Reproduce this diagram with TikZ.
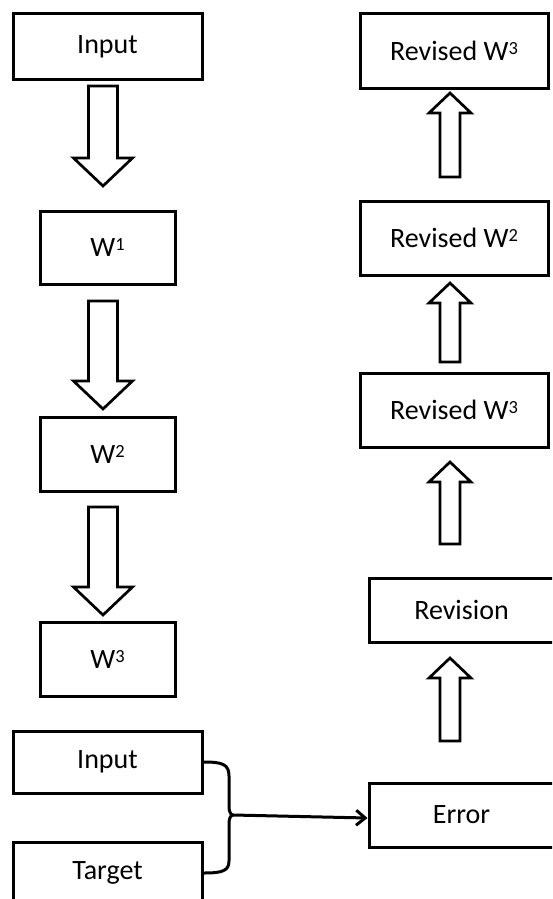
\documentclass[tikz,border=0pt]{standalone}
\usepackage{fontspec}
\setmainfont{Carlito}
\usetikzlibrary{arrows.meta,calc}
\tikzset{
  box/.style={draw=black, line width=3pt, fill=white, inner sep=0pt,
    font=\fontsize{28}{32}\selectfont},
  blk/.style={draw=black, line width=2.7pt, fill=white, line join=miter},
  conn/.style={draw=black, line width=3pt},
}
\newcommand{\sps}[1]{\raisebox{6pt}{\fontsize{18.5}{20}\selectfont #1}}
% down block arrow: x centre, y top, y tip
\newcommand{\bdown}[3]{%
  \draw[blk] (#1-14.5,#2) -- (#1+14.5,#2) -- (#1+14.5,#3-28) -- (#1+29.5,#3-28)
    -- (#1,#3) -- (#1-29.5,#3-28) -- (#1-14.5,#3-28) -- cycle;}
% up block arrow: x centre, y bottom, y tip
\newcommand{\bup}[3]{%
  \draw[blk] (#1-10,#2) -- (#1+10,#2) -- (#1+10,#3+20) -- (#1+21,#3+20)
    -- (#1,#3) -- (#1-21,#3+20) -- (#1-10,#3+20) -- cycle;}
\begin{document}
\begin{tikzpicture}[x=1pt,y=-1pt]
\useasboundingbox (0,0) rectangle (552,899);
\clip (0,0) rectangle (552,899);

% left column
\node[box, minimum width=189pt, minimum height=65pt] (in1) at (107.5,46.5) {Input};
\node[box, minimum width=135pt, minimum height=73pt] (w1) at (107.5,247.5) {W\sps{1}};
\node[box, minimum width=135pt, minimum height=74pt] (w2) at (107.5,454) {W\sps{2}};
\node[box, minimum width=135pt, minimum height=74pt] (w3) at (107.5,659) {W\sps{3}};
\node[box, minimum width=189pt, minimum height=62pt] (in2) at (107.5,762) {Input};
\node[box, minimum width=189pt, minimum height=62pt] (tg) at (107.5,873) {Target};

\bdown{103}{86}{186}
\bdown{103}{301}{409}
\bdown{103}{507}{615}

% right column
\node[box, minimum width=188pt, minimum height=74pt] (r3a) at (454,51) {Revised W\sps{3}};
\node[box, minimum width=188pt, minimum height=74pt] (r2) at (454,238) {Revised W\sps{2}};
\node[box, minimum width=188pt, minimum height=74pt] (r3b) at (454,410) {Revised W\sps{3}};
\node[box, minimum width=185pt, minimum height=64pt] (rev) at (461.5,610) {Revision};
\node[box, minimum width=185pt, minimum height=64pt] (err) at (461.5,815) {Error};

\bup{450}{177}{93}
\bup{450}{362}{283}
\bup{450}{544}{462}
\bup{450}{741}{658}

% brace connector
\coordinate (j) at (233,815);
\draw[conn] (in2.east) .. controls (222,762) and (229,764) .. (229,776)
  -- (229,807) .. controls (229,812) and (231,815) .. (j);
\draw[conn] (tg.east) .. controls (222,873) and (229,871) .. (229,861)
  -- (229,823) .. controls (229,818) and (231,815) .. (j);
\draw[conn, -{Straight Barb[length=9pt,width=15pt]}] (j) -- ($(err.west)+(0,3)$);
\end{tikzpicture}
\end{document}
